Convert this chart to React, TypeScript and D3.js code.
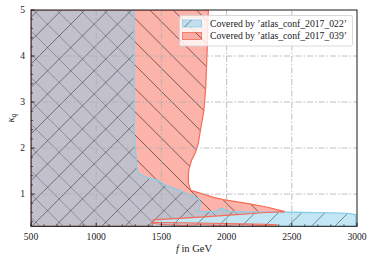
import React from 'react';
import * as d3 from 'd3';

// ---------- data ----------
const xTickValues = [500, 1000, 1500, 2000, 2500, 3000];
const yTickValues = [1, 2, 3, 4, 5];
const legendLabels = ["Covered by ’atlas_conf_2017_022’", "Covered by ’atlas_conf_2017_039’"];

// region covered by atlas_conf_2017_022 (f [GeV], kappa_q)
const blueRegion: [number, number][] = [
  [500, 5], [1290, 5], [1290, 3.5], [1292, 2.3], [1300, 2.0], [1310, 1.6], [1322, 1.45],
  [1390, 1.36], [1464, 1.31], [1541, 1.18], [1630, 1.09], [1719, 0.98], [1785, 0.9],
  [1800, 0.82], [1790, 0.7], [1783, 0.63], [1830, 0.62], [1924, 0.62], [1945, 0.68],
  [1965, 0.69], [1990, 0.66], [2026, 0.62], [2205, 0.61], [2500, 0.605], [2818, 0.59],
  [2950, 0.575], [2990, 0.55], [2990, 0.3], [500, 0.3],
];

// region covered by atlas_conf_2017_039
const redRegion: [number, number][] = [
  [500, 5], [1860, 5], [1852, 4.2], [1840, 3.3], [1825, 2.8], [1800, 2.4], [1783, 2.1],
  [1760, 1.9], [1732, 1.74], [1712, 1.55], [1707, 1.45], [1707, 1.23], [1725, 1.08],
  [1796, 1.02], [1900, 0.93], [1975, 0.88], [2154, 0.8], [2307, 0.72], [2448, 0.62],
  [2300, 0.6], [2051, 0.55], [1800, 0.5], [1600, 0.465], [1438, 0.44], [1430, 0.3], [500, 0.3],
];

// thin strip of atlas_conf_2017_039 near the bottom
const redStrip: [number, number][] = [
  [1440, 0.385], [1700, 0.375], [2000, 0.36], [2300, 0.345], [2390, 0.33], [2250, 0.318],
  [2100, 0.335], [1950, 0.318], [1800, 0.335], [1650, 0.318], [1500, 0.34], [1440, 0.36],
];

// ---------- layout ----------
const W = 374, H = 261;
const X0 = 31, X1 = 357, Y0 = 10, Y1 = 226.3;
const HATCH = 23.3;

const x = d3.scaleLinear().domain([500, 3000]).range([X0, X1]);
const y = d3.scaleLinear().domain([0.3, 5]).range([Y1, Y0]);

const line = d3.line<[number, number]>().x(d => x(d[0])).y(d => y(d[1]));
const area = (pts: [number, number][]) => line(pts) + 'Z';

const FONT = '"Liberation Serif", "Times New Roman", serif';

function hatchLines(kind: '/' | '\\', minX: number, maxX: number, minY: number, maxY: number, key: string, opacity: number) {
  const out: JSX.Element[] = [];
  if (kind === '/') {
    // x + y = c
    const off = 1.8;
    const c0 = Math.floor((minX + minY - off) / HATCH) * HATCH + off;
    for (let c = c0; c <= maxX + maxY + HATCH; c += HATCH) {
      out.push(<line key={key + c} x1={c - minY} y1={minY} x2={c - maxY} y2={maxY} stroke="#000" strokeOpacity={opacity} strokeWidth={0.85} />);
    }
  } else {
    // x - y = c
    const c0 = Math.floor((minX - maxY) / HATCH) * HATCH;
    for (let c = c0; c <= maxX - minY + HATCH; c += HATCH) {
      out.push(<line key={key + c} x1={c + minY} y1={minY} x2={c + maxY} y2={maxY} stroke="#000" strokeOpacity={opacity} strokeWidth={0.85} />);
    }
  }
  return out;
}

const BLUE = '#87ceeb';
const SALMON = '#fa8072';
const RED_EDGE = '#f86a55';

export default function App() {
  const xMinor = d3.range(500, 3001, 100).filter(v => v % 500 !== 0);
  const yMinor = d3.range(4, 51, 2).map(v => v / 10).filter(v => Math.abs(v - Math.round(v)) > 1e-6);
  const gridX = xTickValues.filter(v => v > 500 && v < 3000);
  const gridY = yTickValues.filter(v => v < 5);

  const legX = 179.5, legY = 15.5, legW = 173, legH = 30.5;
  const patchX = 182.5, patchW = 19, patchH = 7;
  const rowY = [23.5, 36];

  return (
    <svg width={W} height={H} style={{ position: 'absolute', left: 0, top: 0, background: '#fff' }} xmlns="http://www.w3.org/2000/svg">
      <defs>
        <clipPath id="plot"><rect x={X0} y={Y0} width={X1 - X0} height={Y1 - Y0} /></clipPath>
        <clipPath id="clipRed"><path d={area(redRegion)} /><path d={area(redStrip)} /></clipPath>
        <clipPath id="clipBlue"><path d={area(blueRegion)} /></clipPath>
        <clipPath id="legBlue"><rect x={patchX} y={rowY[0] - patchH / 2} width={patchW} height={patchH} /></clipPath>
        <clipPath id="legRed"><rect x={patchX} y={rowY[1] - patchH / 2} width={patchW} height={patchH} /></clipPath>
      </defs>

      <g clipPath="url(#plot)">
        {/* red region (039) */}
        <path d={area(redRegion)} fill={SALMON} fillOpacity={0.6} />
        <path d={area(redStrip)} fill={SALMON} fillOpacity={0.6} />
        <g clipPath="url(#clipRed)">{hatchLines('\\', X0, X1, Y0, Y1, 'r', 0.6)}</g>
        {/* blue region (022) */}
        <path d={area(blueRegion)} fill={BLUE} fillOpacity={0.5} />
        <g clipPath="url(#clipBlue)">{hatchLines('/', X0, X1, Y0, Y1, 'b', 0.5)}</g>
        <path d={area(blueRegion)} fill="none" stroke={BLUE} strokeWidth={1.3} />
        <path d={area(redRegion)} fill="none" stroke={RED_EDGE} strokeWidth={1.2} />
        <path d={area(redStrip)} fill="none" stroke={RED_EDGE} strokeWidth={1} />

        {/* grid */}
        {gridX.map(v => (
          <line key={'gx' + v} x1={x(v)} x2={x(v)} y1={Y0} y2={Y1} stroke="#b0b0b0" strokeWidth={0.8} strokeDasharray="6,2,1.5,2" />
        ))}
        {gridY.map(v => (
          <line key={'gy' + v} x1={X0} x2={X1} y1={y(v)} y2={y(v)} stroke="#b0b0b0" strokeWidth={0.8} strokeDasharray="6,2,1.5,2" />
        ))}
      </g>

      {/* frame */}
      <rect x={X0} y={Y0} width={X1 - X0} height={Y1 - Y0} fill="none" stroke="#000" strokeWidth={0.9} />

      {/* ticks */}
      {xTickValues.map(v => (
        <g key={'xt' + v}>
          <line x1={x(v)} x2={x(v)} y1={Y1} y2={Y1 - 3.5} stroke="#000" strokeWidth={0.8} />
          <text x={x(v)} y={Y1 + 13.5} textAnchor="middle" fontFamily={FONT} fontSize={9.6} fill="#222">{v}</text>
        </g>
      ))}
      {xMinor.map(v => (
        <line key={'xm' + v} x1={x(v)} x2={x(v)} y1={Y1} y2={Y1 - 2} stroke="#000" strokeWidth={0.6} />
      ))}
      {yTickValues.map(v => (
        <g key={'yt' + v}>
          <line x1={X0} x2={X0 + 3.5} y1={y(v)} y2={y(v)} stroke="#000" strokeWidth={0.8} />
          <text x={X0 - 6} y={y(v) + 3.3} textAnchor="end" fontFamily={FONT} fontSize={9.6} fill="#222">{v}</text>
        </g>
      ))}
      {yMinor.map(v => (
        <line key={'ym' + v} x1={X0} x2={X0 + 2} y1={y(v)} y2={y(v)} stroke="#000" strokeWidth={0.6} />
      ))}

      {/* axis labels */}
      <text x={(X0 + X1) / 2} y={252} textAnchor="middle" fontFamily={FONT} fontSize={10.5} fill="#222">
        <tspan fontStyle="italic">f</tspan> in GeV
      </text>
      <text transform={`translate(14,${(Y0 + Y1) / 2}) rotate(-90)`} textAnchor="middle" fontFamily={FONT} fontSize={10.5} fill="#222">
        <tspan fontStyle="italic">κ</tspan><tspan fontStyle="italic" fontSize={7.5} dy={2}>q</tspan>
      </text>

      {/* legend */}
      <rect x={legX} y={legY} width={legW} height={legH} rx={2} fill="#fff" fillOpacity={0.8} stroke="#d0d0d0" strokeWidth={0.8} />
      <rect x={patchX} y={rowY[0] - patchH / 2} width={patchW} height={patchH} fill={BLUE} fillOpacity={0.5} stroke={BLUE} strokeWidth={0.8} />
      <g clipPath="url(#legBlue)">{hatchLines('/', patchX, patchX + patchW, rowY[0] - 5, rowY[0] + 5, 'lb', 0.5)}</g>
      <rect x={patchX} y={rowY[1] - patchH / 2} width={patchW} height={patchH} fill={SALMON} fillOpacity={0.6} stroke={RED_EDGE} strokeWidth={0.8} />
      <g clipPath="url(#legRed)">{hatchLines('\\', patchX, patchX + patchW, rowY[1] - 5, rowY[1] + 5, 'lr', 0.6)}</g>
      {legendLabels.map((t, i) => (
        <text key={t} x={210} y={rowY[i] + 3.3} fontFamily={FONT} fontSize={9.6} fill="#222" textLength={137} lengthAdjust="spacingAndGlyphs">{t}</text>
      ))}
    </svg>
  );
}
